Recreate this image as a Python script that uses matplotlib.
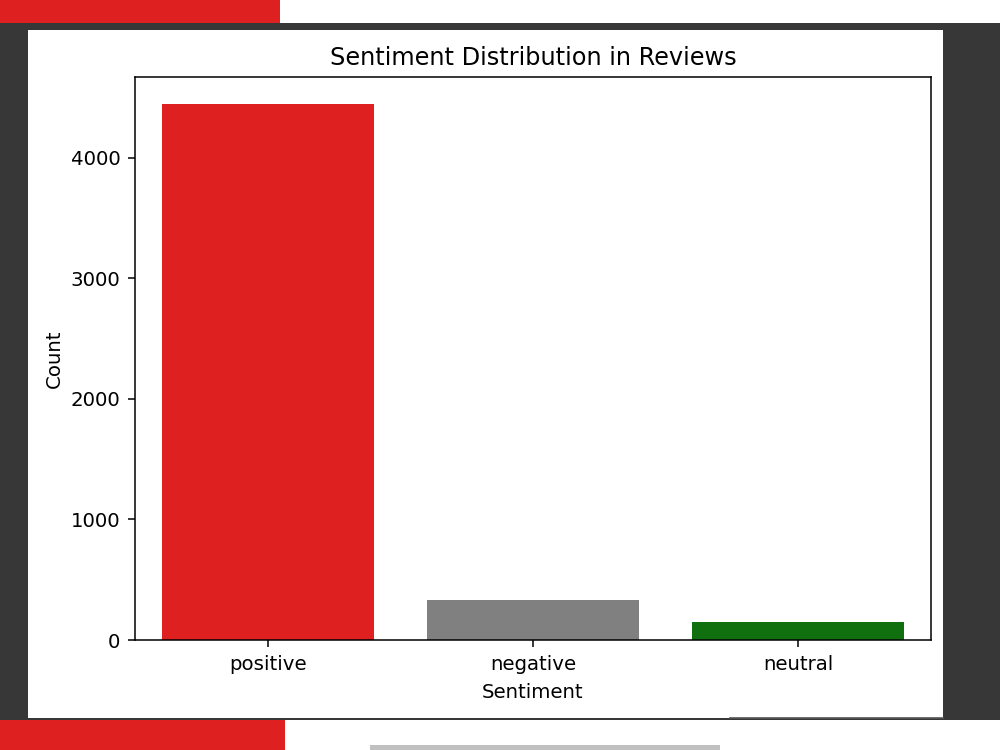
import matplotlib
matplotlib.use("Agg")
import matplotlib.pyplot as plt
from matplotlib.patches import Rectangle

categories = ["positive", "negative", "neutral"]
counts = [4447, 329, 147]
bar_colors = ["#df2020", "#808080", "#107010"]
yticks = [0, 1000, 2000, 3000, 4000]

W, H = 1000, 750
fig = plt.figure(figsize=(10, 7.5), dpi=100)
fig.patch.set_facecolor("white")

def rect(x0, y0, x1, y1, color, z=0):
    # pixel coords (top-left origin) -> figure fraction
    fig.patches.append(Rectangle((x0 / W, 1 - y1 / H), (x1 - x0) / W, (y1 - y0) / H,
                                 transform=fig.transFigure, facecolor=color,
                                 edgecolor="none", zorder=z))

# screenshot frame
rect(0, 23, 1000, 720, "#373737", -3)
rect(0, 0, 280, 23, "#df2020", -3)
rect(0, 720, 285, 750, "#df2020", -3)
rect(28, 30, 943, 718, "white", -2)
rect(370, 745, 720, 750, "#c0c0c0", -2)
fig.lines.append(plt.Line2D([730 / W, 943 / W], [1 - 718 / H, 1 - 718 / H],
                            transform=fig.transFigure, color="#555555", lw=1.2, zorder=-1))

ax = fig.add_axes([135 / W, (H - 640) / H, 796 / W, 563 / H])
ax.set_zorder(5)
ax.bar(categories, counts, width=0.8, color=bar_colors)
ax.set_xlim(-0.5, 2.5)
ax.set_ylim(0, max(counts) * 1.05)
ax.set_yticks(yticks)
ax.set_title("Sentiment Distribution in Reviews", fontsize=17.3, pad=8.5)
ax.set_xlabel("Sentiment", fontsize=14.2, labelpad=7)
ax.set_ylabel("Count", fontsize=14.2, labelpad=5)
ax.tick_params(labelsize=14.2, length=5, width=1.1, pad=5.5)
for s in ax.spines.values():
    s.set_linewidth(1.1)

fig.savefig("out.png", dpi=100)
